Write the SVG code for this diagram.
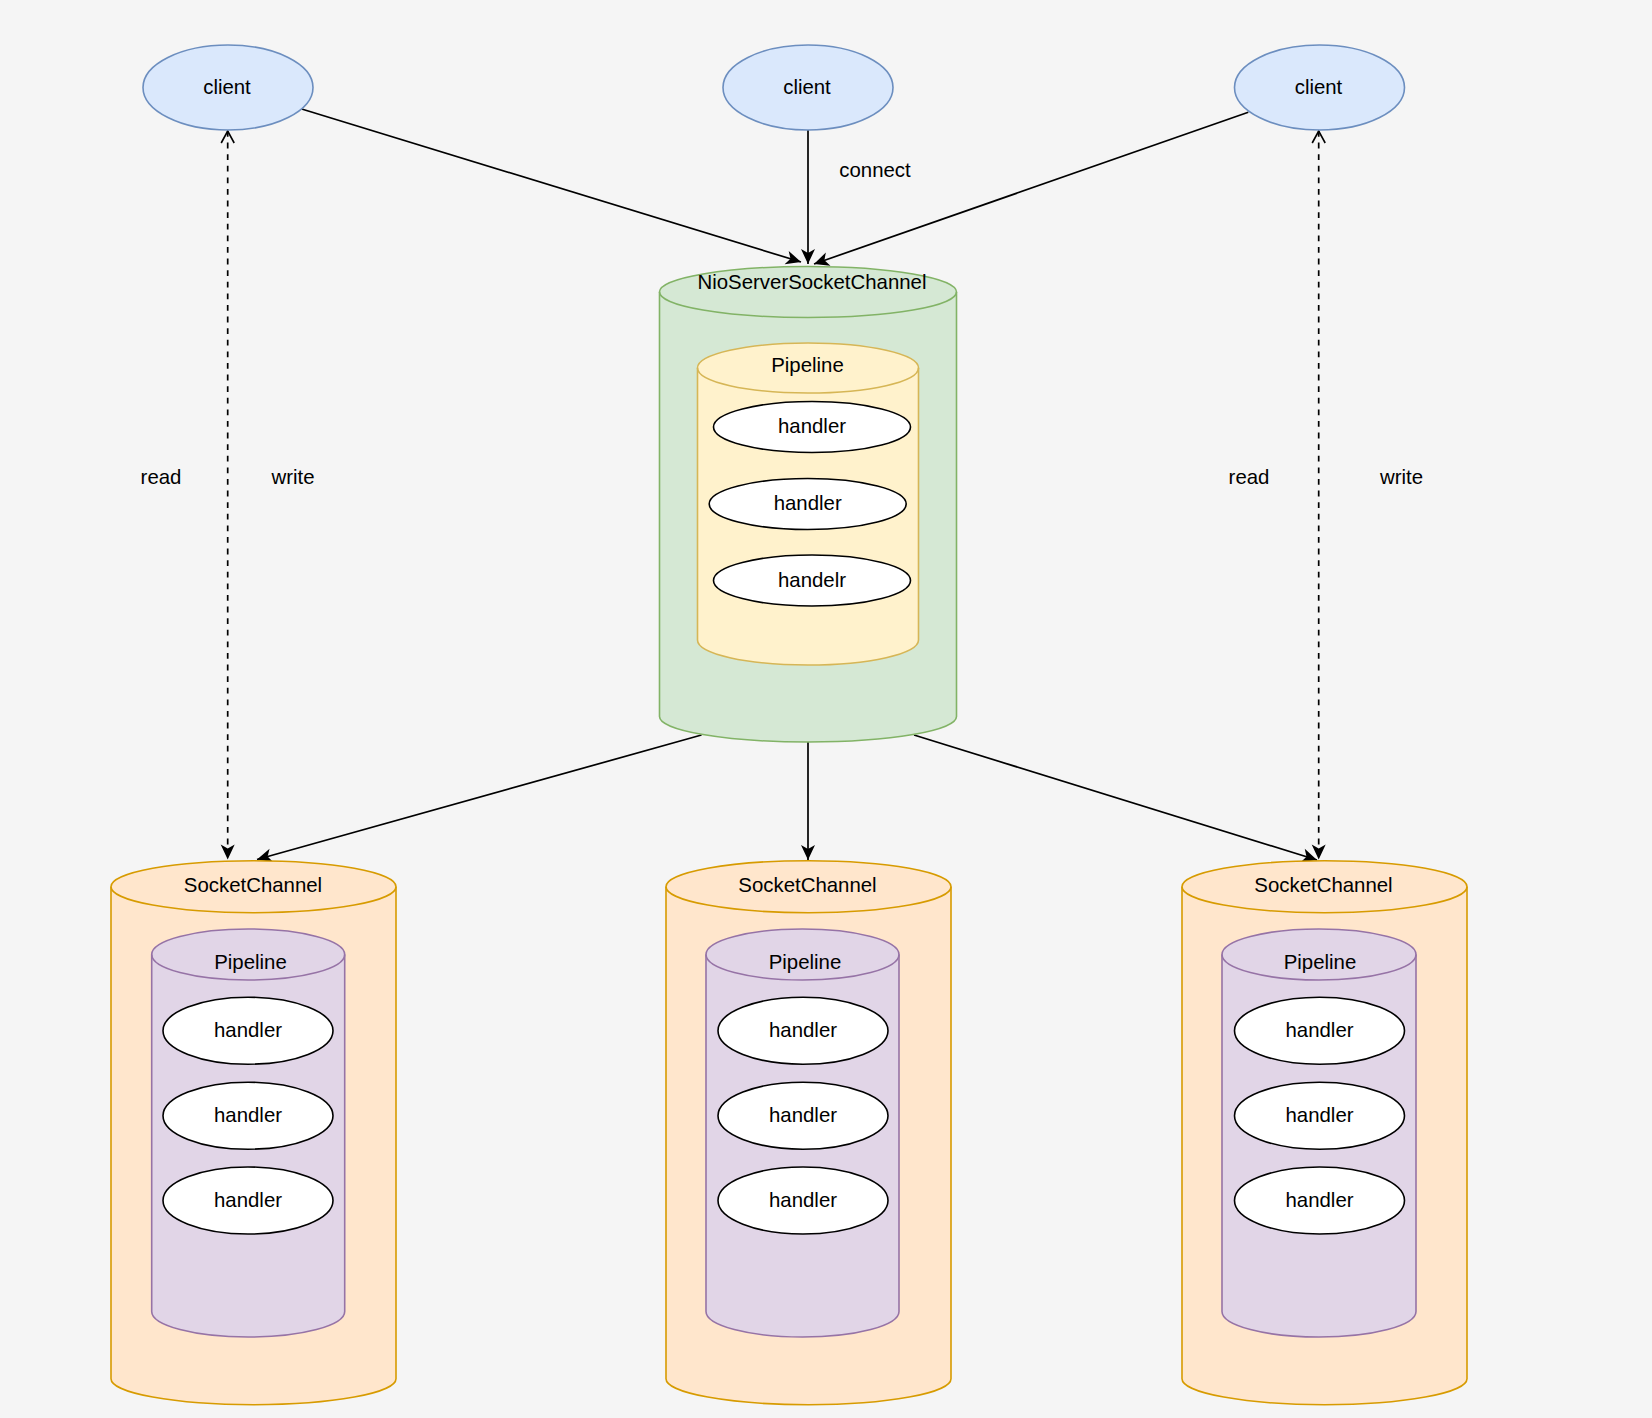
<svg xmlns="http://www.w3.org/2000/svg" width="1652" height="1418" viewBox="0 0 1652 1418">
<defs>
<style>
text{font-family:"Liberation Sans",Arial,sans-serif;font-size:20.4px;fill:#000;text-anchor:middle}
.blue{fill:#dae8fc;stroke:#6c8ebf;stroke-width:1.6}
.green{fill:#d5e8d4;stroke:#82b366;stroke-width:1.6}
.yellow{fill:#fff2cc;stroke:#d6b656;stroke-width:1.6}
.orange{fill:#ffe6cc;stroke:#d79b00;stroke-width:1.6}
.purple{fill:#e1d5e7;stroke:#9673a6;stroke-width:1.6}
.front{fill:none}
.handler{fill:#fff;stroke:#000;stroke-width:1.6}
.edge{fill:none;stroke:#000;stroke-width:1.7}
.dash{stroke-dasharray:5.8 5.8}
</style>
<marker id="classic" viewBox="-16 -8 17 16" refX="0" refY="0" markerWidth="17" markerHeight="16" markerUnits="userSpaceOnUse" orient="auto">
<path d="M0,0 L-15,-7 L-11,0 L-15,7 Z" fill="#000"/>
</marker>
<marker id="open" viewBox="-14 -8 15 16" refX="0" refY="0" markerWidth="15" markerHeight="16" markerUnits="userSpaceOnUse" orient="auto-start-reverse">
<path d="M-12,-6.5 L0,0 L-12,6.5" fill="none" stroke="#000" stroke-width="1.6"/>
</marker>
</defs>
<rect x="0" y="0" width="1652" height="1418" fill="#f5f5f5"/>

<g id="connectors">
<path class="edge" d="M301.7,109 L801,262" marker-end="url(#classic)"/>
<path class="edge" d="M808,130 L808,264" marker-end="url(#classic)"/>
<path class="edge" d="M1248.3,112.3 L814,264" marker-end="url(#classic)"/>
<path class="edge" d="M701.5,735 L257,859.5" marker-end="url(#classic)"/>
<path class="edge" d="M808,742 L808,860" marker-end="url(#classic)"/>
<path class="edge" d="M914,735 L1317,860" marker-end="url(#classic)"/>
<path class="edge dash" d="M227.7,131 L227.7,859.5" marker-start="url(#open)" marker-end="url(#classic)"/>
<path class="edge dash" d="M1318.7,131 L1318.7,859.5" marker-start="url(#open)" marker-end="url(#classic)"/>
<text x="875" y="177.3">connect</text>
<text x="161" y="484">read</text>
<text x="293" y="484">write</text>
<text x="1249" y="484">read</text>
<text x="1401.5" y="484">write</text>
</g>

<g id="client-left">
<ellipse class="blue" cx="228" cy="87.5" rx="85" ry="42.5"/>
<text x="227" y="93.5">client</text>
</g>
<g id="client-middle">
<ellipse class="blue" cx="808" cy="87.5" rx="85" ry="42.5"/>
<text x="807" y="93.5">client</text>
</g>
<g id="client-right">
<ellipse class="blue" cx="1319.5" cy="87.5" rx="85" ry="42.5"/>
<text x="1318.5" y="93.5">client</text>
</g>

<g id="nio-server-socket-channel">
<path class="green" d="M659.5,292 A148.5,25.5 0 0 1 956.5,292 L956.5,716.5 A148.5,25.5 0 0 1 659.5,716.5 Z"/>
<path class="green front" d="M659.5,292 A148.5,25.5 0 0 0 956.5,292"/>
<text x="812" y="289.3">NioServerSocketChannel</text>
</g>
<g id="nio-pipeline">
<path class="yellow" d="M697.5,368 A110.5,25 0 0 1 918.5,368 L918.5,640 A110.5,25 0 0 1 697.5,640 Z"/>
<path class="yellow front" d="M697.5,368 A110.5,25 0 0 0 918.5,368"/>
<text x="807.5" y="371.7">Pipeline</text>
</g>
<g id="nio-handler-1">
<ellipse class="handler" cx="812" cy="427" rx="98.5" ry="25.5"/>
<text x="812" y="433.3">handler</text>
</g>
<g id="nio-handler-2">
<ellipse class="handler" cx="807.7" cy="504" rx="98.5" ry="25.5"/>
<text x="807.7" y="510">handler</text>
</g>
<g id="nio-handler-3">
<ellipse class="handler" cx="812" cy="580.5" rx="98.5" ry="25.5"/>
<text x="812" y="586.7">handelr</text>
</g>

<g id="socket-channel-left">
<path class="orange" d="M111,886.7 A142.5,26 0 0 1 396,886.7 L396,1378.7 A142.5,26 0 0 1 111,1378.7 Z"/>
<path class="orange front" d="M111,886.7 A142.5,26 0 0 0 396,886.7"/>
<text x="253" y="892">SocketChannel</text>
</g>
<g id="pipeline-left">
<path class="purple" d="M151.7,954.5 A96.5,25.5 0 0 1 344.7,954.5 L344.7,1311.5 A96.5,25.5 0 0 1 151.7,1311.5 Z"/>
<path class="purple front" d="M151.7,954.5 A96.5,25.5 0 0 0 344.7,954.5"/>
<text x="250.5" y="969.3">Pipeline</text>
</g>
<g id="handler-left-1"><ellipse class="handler" cx="248" cy="1030.7" rx="85" ry="33.5"/><text x="248" y="1037.2">handler</text></g>
<g id="handler-left-2"><ellipse class="handler" cx="248" cy="1115.7" rx="85" ry="33.5"/><text x="248" y="1122.2">handler</text></g>
<g id="handler-left-3"><ellipse class="handler" cx="248" cy="1200.5" rx="85" ry="33.5"/><text x="248" y="1207">handler</text></g>

<g id="socket-channel-middle">
<path class="orange" d="M666,886.7 A142.5,26 0 0 1 951,886.7 L951,1378.7 A142.5,26 0 0 1 666,1378.7 Z"/>
<path class="orange front" d="M666,886.7 A142.5,26 0 0 0 951,886.7"/>
<text x="807.5" y="892">SocketChannel</text>
</g>
<g id="pipeline-middle">
<path class="purple" d="M706,954.5 A96.5,25.5 0 0 1 899,954.5 L899,1311.5 A96.5,25.5 0 0 1 706,1311.5 Z"/>
<path class="purple front" d="M706,954.5 A96.5,25.5 0 0 0 899,954.5"/>
<text x="805" y="969.3">Pipeline</text>
</g>
<g id="handler-middle-1"><ellipse class="handler" cx="803" cy="1030.7" rx="85" ry="33.5"/><text x="803" y="1037.2">handler</text></g>
<g id="handler-middle-2"><ellipse class="handler" cx="803" cy="1115.7" rx="85" ry="33.5"/><text x="803" y="1122.2">handler</text></g>
<g id="handler-middle-3"><ellipse class="handler" cx="803" cy="1200.5" rx="85" ry="33.5"/><text x="803" y="1207">handler</text></g>

<g id="socket-channel-right">
<path class="orange" d="M1182,886.7 A142.5,26 0 0 1 1467,886.7 L1467,1378.7 A142.5,26 0 0 1 1182,1378.7 Z"/>
<path class="orange front" d="M1182,886.7 A142.5,26 0 0 0 1467,886.7"/>
<text x="1323.5" y="892">SocketChannel</text>
</g>
<g id="pipeline-right">
<path class="purple" d="M1222,954.5 A97,25.5 0 0 1 1416,954.5 L1416,1311.5 A97,25.5 0 0 1 1222,1311.5 Z"/>
<path class="purple front" d="M1222,954.5 A97,25.5 0 0 0 1416,954.5"/>
<text x="1320" y="969.3">Pipeline</text>
</g>
<g id="handler-right-1"><ellipse class="handler" cx="1319.5" cy="1030.7" rx="85" ry="33.5"/><text x="1319.5" y="1037.2">handler</text></g>
<g id="handler-right-2"><ellipse class="handler" cx="1319.5" cy="1115.7" rx="85" ry="33.5"/><text x="1319.5" y="1122.2">handler</text></g>
<g id="handler-right-3"><ellipse class="handler" cx="1319.5" cy="1200.5" rx="85" ry="33.5"/><text x="1319.5" y="1207">handler</text></g>
</svg>
